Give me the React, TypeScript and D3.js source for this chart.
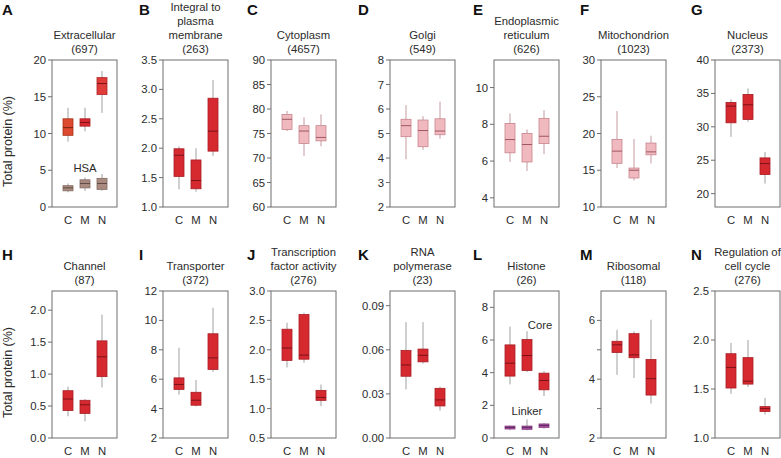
import React from "react";
import * as d3 from "d3";

// [min, q1, median, q3, max]
type Box = [number, number, number, number, number];

const GROUPS = ["C", "M", "N"];

const extracellular: Box[] = [
  [8.9, 9.75, 10.8, 12.0, 13.5],
  [10.3, 11.0, 11.5, 12.0, 13.5],
  [12.8, 15.3, 16.8, 17.6, 18.5],
];
const extracellularHSA: Box[] = [
  [2.0, 2.2, 2.6, 2.9, 3.2],
  [2.2, 2.6, 3.2, 3.7, 4.0],
  [2.2, 2.4, 3.2, 3.9, 4.5],
];
const integralPM: Box[] = [
  [1.3, 1.52, 1.88, 1.99, 2.03],
  [1.26, 1.31, 1.45, 1.8, 2.0],
  [1.87, 1.95, 2.29, 2.85, 3.16],
];
const cytoplasm: Box[] = [
  [75.5, 75.8, 77.9, 78.9, 79.6],
  [70.4, 72.95, 75.5, 76.6, 78.3],
  [72.4, 73.5, 74.2, 76.6, 78.9],
];
const golgi: Box[] = [
  [3.95, 4.87, 5.32, 5.58, 6.16],
  [4.33, 4.46, 5.12, 5.55, 5.71],
  [4.79, 4.95, 5.1, 5.6, 6.3],
];
const endoplasmic: Box[] = [
  [5.95, 6.45, 7.17, 8.05, 8.59],
  [5.46, 5.95, 6.9, 7.5, 7.72],
  [6.37, 6.95, 7.35, 8.32, 8.77],
];
const mitochondrion: Box[] = [
  [15.3, 15.94, 17.6, 19.2, 23.05],
  [13.6, 13.95, 15.0, 15.3, 19.25],
  [15.94, 17.1, 17.5, 18.7, 19.7],
];
const nucleus: Box[] = [
  [28.5, 30.6, 33.1, 33.65, 34.1],
  [30.75, 31.1, 33.3, 34.85, 35.75],
  [21.5, 22.85, 24.5, 25.35, 26.25],
];
const channel: Box[] = [
  [0.34, 0.43, 0.61, 0.74, 0.805],
  [0.26, 0.385, 0.52, 0.59, 0.61],
  [0.79, 0.96, 1.27, 1.52, 1.93],
];
const transporter: Box[] = [
  [4.95, 5.3, 5.64, 6.09, 8.14],
  [4.14, 4.23, 4.57, 5.11, 5.95],
  [6.5, 6.66, 7.45, 9.09, 10.86],
];
const transcriptionFactor: Box[] = [
  [1.7, 1.82, 2.03, 2.35, 2.46],
  [1.78, 1.84, 1.91, 2.6, 2.63],
  [1.04, 1.14, 1.19, 1.31, 1.41],
];
const rnaPolymerase: Box[] = [
  [0.033, 0.042, 0.0497, 0.0596, 0.0788],
  [0.0506, 0.0518, 0.0562, 0.0605, 0.0788],
  [0.0187, 0.0218, 0.0259, 0.0338, 0.0349],
];
const histoneCore: Box[] = [
  [3.28, 3.79, 4.58, 5.7, 6.82],
  [4.03, 4.13, 5.05, 6.03, 6.54],
  [2.57, 2.95, 3.52, 3.97, 4.09],
];
const histoneLinker: Box[] = [
  [0.47, 0.55, 0.65, 0.73, 0.77],
  [0.47, 0.53, 0.65, 0.73, 1.14],
  [0.57, 0.65, 0.77, 0.86, 0.92],
];
const ribosomal: Box[] = [
  [4.15, 4.91, 5.17, 5.29, 5.68],
  [4.04, 4.73, 4.83, 5.55, 5.63],
  [3.17, 3.46, 4.02, 4.67, 6.02],
];
const cellCycle: Box[] = [
  [1.45, 1.51, 1.72, 1.86, 1.97],
  [1.52, 1.55, 1.58, 1.82, 2.0],
  [1.24, 1.27, 1.3, 1.32, 1.41],
];

const Y_LABEL = "Total protein (%)";

// ---- styles ----
type Style = { fill: string; stroke: string; median: string; whisker: string };
const STYLES: Record<string, Style> = {
  red: { fill: "#d5282f", stroke: "#a81d25", median: "#7c1218", whisker: "#a0a0a0" },
  orange: { fill: "#dc4a30", stroke: "#a8321d", median: "#7c2012", whisker: "#a0a0a0" },
  redLight: { fill: "#de3b39", stroke: "#ad2327", median: "#7c1218", whisker: "#a0a0a0" },
  pink: { fill: "#f0b9bf", stroke: "#c7858d", median: "#a05661", whisker: "#c49aa0" },
  hsa: { fill: "#a88a80", stroke: "#846a60", median: "#5f4a42", whisker: "#a0a0a0" },
  linker: { fill: "#a44c9f", stroke: "#843a80", median: "#5e2a5b", whisker: "#a0a0a0" },
};

type Series = { data: Box[]; styles: string[] };
type Note = { text: string; group: string; dx: number; value: number };
type PanelDef = {
  letter: string;
  title: string[];
  row: number;
  col: number;
  domain: [number, number];
  ticks: number[];
  labels?: number[];
  fmt: string;
  series: Series[];
  notes?: Note[];
};

const all = (s: string) => [s, s, s];

const PANELS: PanelDef[] = [
  { letter: "A", title: ["Extracellular", "(697)"], row: 0, col: 0, domain: [0, 20], ticks: [0, 5, 10, 15, 20], fmt: "d",
    series: [{ data: extracellular, styles: ["orange", "red", "redLight"] }, { data: extracellularHSA, styles: all("hsa") }],
    notes: [{ text: "HSA", group: "M", dx: 0, value: 4.75 }] },
  { letter: "B", title: ["Integral to", "plasma", "membrane", "(263)"], row: 0, col: 1, domain: [1, 3.5], ticks: [1, 1.5, 2, 2.5, 3, 3.5], fmt: ".1f",
    series: [{ data: integralPM, styles: all("red") }] },
  { letter: "C", title: ["Cytoplasm", "(4657)"], row: 0, col: 2, domain: [60, 90], ticks: [60, 65, 70, 75, 80, 85, 90], fmt: "d",
    series: [{ data: cytoplasm, styles: all("pink") }] },
  { letter: "D", title: ["Golgi", "(549)"], row: 0, col: 3, domain: [2, 8], ticks: [2, 3, 4, 5, 6, 7, 8], fmt: "d",
    series: [{ data: golgi, styles: all("pink") }] },
  { letter: "E", title: ["Endoplasmic", "reticulum", "(626)"], row: 0, col: 4, domain: [3.5, 11.5], ticks: [4, 6, 8, 10], fmt: "d",
    series: [{ data: endoplasmic, styles: all("pink") }] },
  { letter: "F", title: ["Mitochondrion", "(1023)"], row: 0, col: 5, domain: [10, 30], ticks: [10, 15, 20, 25, 30], fmt: "d",
    series: [{ data: mitochondrion, styles: all("pink") }] },
  { letter: "G", title: ["Nucleus", "(2373)"], row: 0, col: 6, domain: [18, 40], ticks: [20, 25, 30, 35, 40], fmt: "d",
    series: [{ data: nucleus, styles: all("red") }] },
  { letter: "H", title: ["Channel", "(87)"], row: 1, col: 0, domain: [0, 2.3], ticks: [0, 0.5, 1, 1.5, 2], fmt: ".1f",
    series: [{ data: channel, styles: all("red") }] },
  { letter: "I", title: ["Transporter", "(372)"], row: 1, col: 1, domain: [2, 12], ticks: [2, 4, 6, 8, 10, 12], fmt: "d",
    series: [{ data: transporter, styles: all("red") }] },
  { letter: "J", title: ["Transcription", "factor activity", "(276)"], row: 1, col: 2, domain: [0.5, 3], ticks: [0.5, 1, 1.5, 2, 2.5, 3], fmt: ".1f",
    series: [{ data: transcriptionFactor, styles: all("red") }] },
  { letter: "K", title: ["RNA", "polymerase", "(23)"], row: 1, col: 3, domain: [0, 0.1], ticks: [0, 0.03, 0.06, 0.09], fmt: ".2f",
    series: [{ data: rnaPolymerase, styles: all("red") }] },
  { letter: "L", title: ["Histone", "(26)"], row: 1, col: 4, domain: [0, 9], ticks: [0, 2, 4, 6, 8], fmt: "d",
    series: [{ data: histoneCore, styles: all("red") }, { data: histoneLinker, styles: all("linker") }],
    notes: [{ text: "Core", group: "N", dx: -4, value: 6.67 }, { text: "Linker", group: "M", dx: 0, value: 1.4 }] },
  { letter: "M", title: ["Ribosomal", "(118)"], row: 1, col: 5, domain: [2, 7], ticks: [2, 3, 4, 5, 6], labels: [2, 4, 6], fmt: "d",
    series: [{ data: ribosomal, styles: all("red") }] },
  { letter: "N", title: ["Regulation of", "cell cycle", "(276)"], row: 1, col: 6, domain: [1, 2.5], ticks: [1, 1.5, 2, 2.5], fmt: ".1f",
    series: [{ data: cellCycle, styles: all("red") }] },
];

// ---- layout ----
const W = 781;
const H = 458;
const COL_LEFT = [52, 163, 271, 390, 494, 601, 715];
const LETTER_X = [2, 139, 247, 358, 473, 580, 691];
const ROW_TOP = [60, 291];
const LETTER_Y = [15, 260];
const FRAME_W = 65;
const FRAME_H = 147;
const BOX_W = 10;
const FONT = "'Liberation Sans', Arial, Helvetica, sans-serif";
const TEXT = "#2b2b2b";
const FRAME = "#6e6e6e";

function Panel({ p }: { p: PanelDef }) {
  const x0 = COL_LEFT[p.col];
  const y0 = ROW_TOP[p.row];
  const x = d3.scalePoint<string>().domain(GROUPS).range([x0 + 16, x0 + 50]);
  const y = d3.scaleLinear().domain(p.domain).range([y0 + FRAME_H, y0]);
  const fmt = d3.format(p.fmt);
  const labelSet = p.labels ?? p.ticks;
  const cx = x0 + FRAME_W / 2;
  const nT = p.title.length;
  return (
    <g>
      <text x={LETTER_X[p.col]} y={LETTER_Y[p.row]} fontSize={15} fontWeight="bold" fill="#111">
        {p.letter}
      </text>
      {p.title.map((t, i) => (
        <text key={i} x={cx} y={y0 - 7 - (nT - 1 - i) * 14} textAnchor="middle" fontSize={11.3} fill={TEXT}>
          {t}
        </text>
      ))}
      {p.ticks.map((t) => (
        <g key={t}>
          <line x1={x0 - 4} x2={x0} y1={y(t)} y2={y(t)} stroke={FRAME} strokeWidth={1} />
          {labelSet.some((l) => Math.abs(l - t) < 1e-9) && (
            <text x={x0 - 6} y={y(t)} dy="0.36em" textAnchor="end" fontSize={11.3} fill={TEXT}>
              {fmt(t)}
            </text>
          )}
        </g>
      ))}
      {GROUPS.map((g) => (
        <text key={g} x={x(g)} y={y0 + FRAME_H + 17} textAnchor="middle" fontSize={11.3} fill={TEXT}>
          {g}
        </text>
      ))}
      {p.series.map((s, si) =>
        s.data.map((b, i) => {
          const st = STYLES[s.styles[i]];
          const gx = x(GROUPS[i]) as number;
          return (
            <g key={`${si}-${i}`}>
              <line x1={gx} x2={gx} y1={y(b[0])} y2={y(b[4])} stroke={st.whisker} strokeWidth={1} />
              <rect x={gx - BOX_W / 2} y={y(b[3])} width={BOX_W} height={Math.max(1, y(b[1]) - y(b[3]))}
                fill={st.fill} stroke={st.stroke} strokeWidth={0.8} />
              <line x1={gx - BOX_W / 2} x2={gx + BOX_W / 2} y1={y(b[2])} y2={y(b[2])} stroke={st.median} strokeWidth={1} />
            </g>
          );
        })
      )}
      {(p.notes ?? []).map((n) => (
        <text key={n.text} x={(x(n.group) as number) + n.dx} y={y(n.value)} textAnchor="middle" fontSize={11.3} fill={TEXT}>
          {n.text}
        </text>
      ))}
      <rect x={x0} y={y0} width={FRAME_W} height={FRAME_H} fill="none" stroke={FRAME} strokeWidth={1} />
    </g>
  );
}

export default function App() {
  return (
    <svg width={W} height={H} style={{ position: "absolute", left: 0, top: 0, background: "#fff" }}
      fontFamily={FONT}>
      {ROW_TOP.map((t, i) => (
        <text key={i} transform={`translate(12, ${t + FRAME_H / 2 + 8}) rotate(-90)`} textAnchor="middle"
          fontSize={12.5} fill={TEXT}>
          {Y_LABEL}
        </text>
      ))}
      {PANELS.map((p) => (
        <Panel key={p.letter} p={p} />
      ))}
    </svg>
  );
}
